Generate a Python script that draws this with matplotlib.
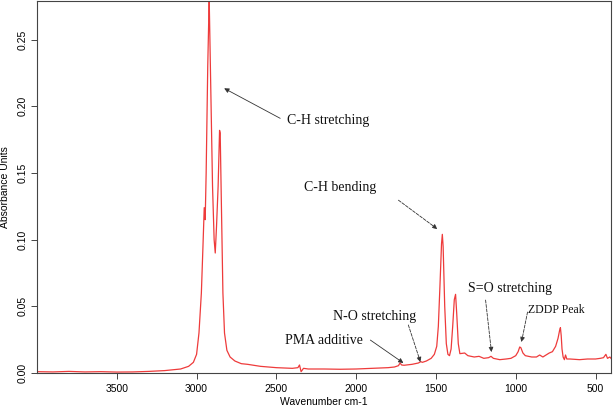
import matplotlib
matplotlib.use("Agg")
import matplotlib.pyplot as plt

# FTIR spectrum
wavenumber = [4000, 3900, 3800, 3700, 3600, 3500, 3400, 3300, 3200, 3100, 3050, 3020,
              3000, 2985, 2970, 2960, 2952, 2946, 2940, 2930, 2921, 2912, 2900, 2890,
              2883, 2875, 2865, 2856, 2852, 2845, 2835, 2825, 2810, 2790, 2760, 2720,
              2680, 2600, 2500, 2400, 2365, 2355, 2345, 2330, 2300, 2200, 2100, 2000,
              1900, 1800, 1760, 1735, 1725, 1715, 1700, 1650, 1610, 1595, 1585, 1560,
              1530, 1510, 1495, 1485, 1475, 1465, 1460, 1455, 1445, 1435, 1425, 1415,
              1405, 1395, 1385, 1377, 1370, 1360, 1350, 1320, 1300, 1260, 1230, 1200,
              1170, 1155, 1140, 1100, 1060, 1030, 1000, 985, 975, 968, 955, 940, 920,
              900, 870, 850, 830, 810, 790, 770, 750, 735, 725, 720, 715, 710, 703, 695,
              688, 680, 660, 600, 550, 500, 470, 450, 435, 425, 410, 403]
absorbance = [0.001, 0.0008, 0.0012, 0.0008, 0.001, 0.0007, 0.0008, 0.0012, 0.0018, 0.003, 0.005, 0.008,
              0.014, 0.03, 0.06, 0.095, 0.124, 0.115, 0.15, 0.23, 0.281, 0.22, 0.14, 0.10,
              0.090, 0.11, 0.14, 0.182, 0.180, 0.13, 0.06, 0.03, 0.017, 0.012, 0.009, 0.007,
              0.0065, 0.005, 0.004, 0.0035, 0.004, 0.006, 0.001, 0.0035, 0.003, 0.003, 0.0028, 0.003,
              0.0035, 0.004, 0.0045, 0.0055, 0.0075, 0.006, 0.0058, 0.0065, 0.0075, 0.0085, 0.008, 0.009,
              0.011, 0.014, 0.02, 0.035, 0.065, 0.097, 0.104, 0.095, 0.05, 0.022, 0.014, 0.013,
              0.018, 0.035, 0.055, 0.059, 0.045, 0.022, 0.0145, 0.015, 0.013, 0.012, 0.0125, 0.011,
              0.0115, 0.0125, 0.011, 0.010, 0.0105, 0.011, 0.013, 0.016, 0.0195, 0.019, 0.015, 0.013, 0.0125,
              0.012, 0.012, 0.0135, 0.012, 0.0135, 0.015, 0.016, 0.02, 0.026, 0.032, 0.034, 0.028, 0.018, 0.012, 0.010,
              0.0135, 0.0105, 0.0105, 0.010, 0.0105, 0.0105, 0.011, 0.0115, 0.014, 0.011, 0.012, 0.011]

x_ticks = [3500, 3000, 2500, 2000, 1500, 1000, 500]
y_ticks = [0.00, 0.05, 0.10, 0.15, 0.20, 0.25]

# label text, label position (left edge), arrow start, arrow tip, dashed?, font size
notes = [
    ("C-H stretching", (2432, 0.1895), (2476, 0.191), (2827, 0.2135), False, 10),
    ("C-H bending", (2325, 0.139), (1735, 0.1296), (1491, 0.108), True, 10),
    ("N-O stretching", (2143, 0.0427), (1673, 0.036), (1597, 0.0082), True, 10),
    ("PMA additive", (2444, 0.0247), (1911, 0.0247), (1704, 0.0075), False, 10),
    ("S=O stretching", (1302, 0.0637), (1189, 0.0547), (1152, 0.0157), True, 10),
    ("ZDDP Peak", (926, 0.0472), (926, 0.0457), (964, 0.0232), True, 8.5),
]

fig = plt.figure(figsize=(6.16, 4.08), dpi=100)
ax = fig.add_axes([37 / 616, 35 / 408, 574 / 616, 372 / 408])
ax.plot(wavenumber, absorbance, color="#ee3b3b", lw=0.9)
ax.set_xlim(4000, 403)
ax.set_ylim(0.0, 0.279)

ax.set_xticks(x_ticks)
ax.set_xticklabels([str(t) for t in x_ticks], fontsize=7.5, family="Liberation Sans")
ax.set_yticks(y_ticks)
ax.set_yticklabels(["%.2f" % t for t in y_ticks], fontsize=7.5, family="Liberation Sans",
                   rotation=90, va="center")
ax.tick_params(length=4, width=0.7, color="#444444")
ax.tick_params(axis="x", pad=4)
ax.tick_params(axis="y", pad=3)
for s in ax.spines.values():
    s.set_color("#444444")
    s.set_linewidth(0.8)

ax.set_xlabel("Wavenumber cm-1", fontsize=7.5, family="Liberation Sans", labelpad=2)
ax.set_ylabel("Absorbance Units", fontsize=7.5, family="Liberation Sans", labelpad=5)

for text, xy_text, xy_tail, xy_tip, dashed, fs in notes:
    ax.text(xy_text[0], xy_text[1], text, fontsize=fs, family="Liberation Serif",
            ha="left", va="center", color="#111111")
    ax.annotate("", xy=xy_tip, xytext=xy_tail,
                arrowprops=dict(arrowstyle="-|>", color="#333333", lw=0.6,
                                linestyle="--" if dashed else "-",
                                mutation_scale=7, shrinkA=0, shrinkB=0))

fig.savefig("out.png", dpi=100)
